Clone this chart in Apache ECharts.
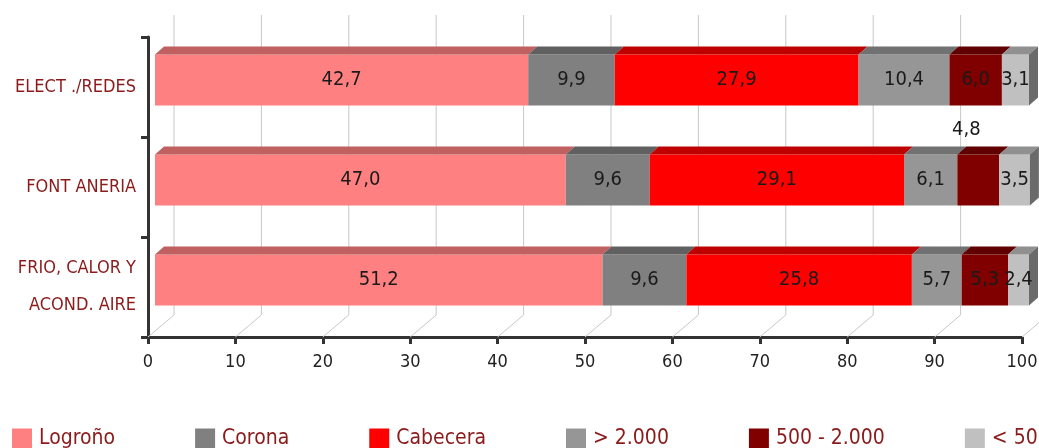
<!DOCTYPE html>
<html>
<head>
<meta charset="utf-8">
<script src="https://cdn.jsdelivr.net/npm/echarts@6/dist/echarts.min.js"></script>
<style>
  html, body { margin: 0; padding: 0; background: #fff; }
  #chart { width: 1039px; height: 448px; }
</style>
</head>
<body>
<div id="chart"></div>
<script>
// ---- data ----
const categories = ['ELECT ./REDES', 'FONT ANERIA', 'FRIO, CALOR Y\nACOND. AIRE'];
const seriesNames = ['Logroño', 'Corona', 'Cabecera', '> 2.000', '500 - 2.000', '< 500'];
const logrono   = [42.7, 47.0, 51.2];
const corona    = [9.9, 9.6, 9.6];
const cabecera  = [27.9, 29.1, 25.8];
const mas2000   = [10.4, 6.1, 5.7];
const de500a2000 = [6.0, 4.8, 5.3];
const menos500  = [3.1, 3.5, 2.4];
const xTicks = [0, 10, 20, 30, 40, 50, 60, 70, 80, 90, 100];

// ---- styles ----
const allValues = [logrono, corona, cabecera, mas2000, de500a2000, menos500];
const frontColors = ['#FF8080', '#808080', '#FF0000', '#969696', '#800000', '#C0C0C0'];
const topColors   = ['#C06060', '#606060', '#BF0000', '#717171', '#600000', '#909090'];
const sideColor = '#6a6a6a';
const labelOutside = { '4-1': true }; // series 4, category 1 label drawn above the bar
const FONT = '"Liberation Sans Narrow", "Arial Narrow", "DejaVu Sans Condensed", sans-serif';
const DARKRED = '#8B1A1A';
const BAR_H = 51, DX = 9, DY = 8;

function fmt(v) { return v.toFixed(1).replace('.', ','); }

const cum = categories.map(() => 0);
const barSeries = allValues.map((vals, si) => {
  const data = vals.map((v, ci) => {
    const s = cum[ci];
    cum[ci] += v;
    return [s, s + v, ci, v];
  });
  return {
    type: 'custom',
    name: seriesNames[si],
    xAxisIndex: 1,
    yAxisIndex: 1,
    itemStyle: { color: frontColors[si] },
    encode: { x: [0, 1], y: 2 },
    data: data,
    z: 5,
    renderItem: function (params, api) {
      const s = api.value(0), e = api.value(1), ci = api.value(2), v = api.value(3);
      const p0 = api.coord([s, ci]);
      const p1 = api.coord([e, ci]);
      const yTop = p0[1] - BAR_H / 2, yBot = p0[1] + BAR_H / 2;
      const x0 = p0[0], x1 = p1[0];
      const children = [
        { type: 'rect', shape: { x: x0, y: yTop, width: x1 - x0, height: BAR_H },
          style: { fill: frontColors[si] } },
        { type: 'polygon', shape: { points: [[x0, yTop], [x1, yTop], [x1 + DX, yTop - DY], [x0 + DX, yTop - DY]] },
          style: { fill: topColors[si] } }
      ];
      if (si === allValues.length - 1) {
        children.push({ type: 'polygon',
          shape: { points: [[x1, yTop], [x1 + DX, yTop - DY], [x1 + DX, yBot - DY], [x1, yBot]] },
          style: { fill: sideColor } });
      }
      const outside = labelOutside[si + '-' + ci];
      children.push({
        type: 'text',
        style: {
          text: fmt(v),
          x: outside ? (x0 + x1) / 2 - 12 : (x0 + x1) / 2,
          y: outside ? yTop - 25 : p0[1],
          align: 'center', verticalAlign: 'middle',
          textAlign: 'center', textVerticalAlign: 'middle',
          fill: '#1a1a1a',
          fontSize: 20, fontFamily: FONT
        },
        z2: 10
      });
      return { type: 'group', children: children };
    }
  };
});

const gridSeries = {
  type: 'custom',
  xAxisIndex: 0,
  yAxisIndex: 0,
  silent: true,
  z: 1,
  data: xTicks.map(t => [t, 0]),
  encode: { x: 0, y: 1 },
  renderItem: function (params, api) {
    const cs = params.coordSys;
    const p = api.coord([api.value(0), 0]);
    const bottom = cs.y + cs.height, top = cs.y;
    return {
      type: 'polyline',
      shape: { points: [[p[0], bottom], [p[0] + 26, bottom - 22], [p[0] + 26, top - 22]] },
      style: { stroke: '#c8c8c8', lineWidth: 1, fill: null }
    };
  }
};

const chart = echarts.init(document.getElementById('chart'), null, { renderer: 'canvas' });
chart.setOption({
  animation: false,
  backgroundColor: '#ffffff',
  textStyle: { fontFamily: FONT },
  grid: [
    { left: 148, right: 17, top: 37, bottom: 111, containLabel: false, outerBoundsMode: 'none' },
    { left: 155, right: 10, top: 30, bottom: 118, containLabel: false, outerBoundsMode: 'none' }
  ],
  legend: {
    left: 12, top: 428, padding: 0, width: 1200,
    itemWidth: 20, itemHeight: 20, itemGap: 80,
    icon: 'rect',
    data: seriesNames,
    textStyle: { fontSize: 21, color: DARKRED, fontFamily: FONT, padding: [0, 0, 0, 2] }
  },
  xAxis: [
    { type: 'value', gridIndex: 0, min: 0, max: 100, interval: 10,
      axisLine: { show: true, lineStyle: { color: '#333', width: 3 } },
      axisTick: { show: true, length: 7, lineStyle: { color: '#333', width: 3 } },
      axisLabel: { fontSize: 18, color: '#222', margin: 16, fontFamily: FONT },
      splitLine: { show: false } },
    { type: 'value', gridIndex: 1, min: 0, max: 100, show: false, splitLine: { show: false } }
  ],
  yAxis: [
    { type: 'category', gridIndex: 0, data: categories, inverse: true,
      axisLine: { show: true, lineStyle: { color: '#333', width: 3 } },
      axisTick: { show: true, length: 7, lineStyle: { color: '#333', width: 3 } },
      axisLabel: { fontSize: 18, color: DARKRED, margin: 12, lineHeight: 37, fontFamily: FONT } },
    { type: 'category', gridIndex: 1, data: categories, inverse: true, show: false }
  ],
  series: [gridSeries].concat(barSeries)
});
</script>
</body>
</html>
